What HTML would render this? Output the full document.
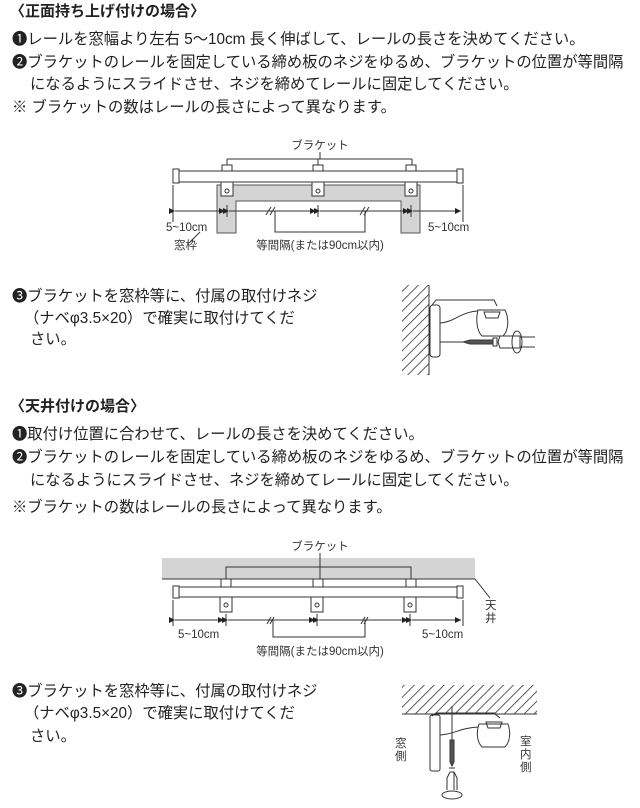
<!DOCTYPE html>
<html><head><meta charset="utf-8"><style>
body{margin:0;width:640px;height:808px;background:#fff;position:relative;overflow:hidden;font-family:"Liberation Sans","Noto Sans CJK JP",sans-serif;color:#222}
.t{position:absolute;white-space:nowrap;font-size:15.3px;line-height:18px}
.h{font-weight:bold;font-size:15px}
svg{position:absolute;left:0;top:0}
</style></head><body>
<div class="t h" style="left:10px;top:3px">〈正面持ち上げ付けの場合〉</div>
<div class="t" style="left:12px;top:31px">❶レールを窓幅より左右 5〜10cm 長く伸ばして、レールの長さを決めてください。</div>
<div class="t" style="left:12px;top:54px">❷ブラケットのレールを固定している締め板のネジをゆるめ、ブラケットの位置が等間隔</div>
<div class="t" style="left:30px;top:76px">になるようにスライドさせ、ネジを締めてレールに固定してください。</div>
<div class="t" style="left:12px;top:99px">※ ブラケットの数はレールの長さによって異なります。</div>

<div class="t" style="left:12px;top:288px">❸ブラケットを窓枠等に、付属の取付けネジ</div>
<div class="t" style="left:24px;top:310px">（ナベφ3.5×20）で確実に取付けてくだ</div>
<div class="t" style="left:30px;top:331px">さい。</div>

<div class="t h" style="left:10px;top:398px">〈天井付けの場合〉</div>
<div class="t" style="left:12px;top:426px">❶取付け位置に合わせて、レールの長さを決めてください。</div>
<div class="t" style="left:12px;top:449px">❷ブラケットのレールを固定している締め板のネジをゆるめ、ブラケットの位置が等間隔</div>
<div class="t" style="left:30px;top:472px">になるようにスライドさせ、ネジを締めてレールに固定してください。</div>
<div class="t" style="left:12px;top:499px">※ブラケットの数はレールの長さによって異なります。</div>

<div class="t" style="left:12px;top:683px">❸ブラケットを窓枠等に、付属の取付けネジ</div>
<div class="t" style="left:24px;top:705px">（ナベφ3.5×20）で確実に取付けてくだ</div>
<div class="t" style="left:30px;top:728px">さい。</div>

<svg width="640" height="808" viewBox="0 0 640 808" font-family="Liberation Sans,Noto Sans CJK JP,sans-serif" fill="none" stroke="#333" stroke-width="1">
<defs>
<marker id="a" markerWidth="6" markerHeight="6" refX="6" refY="3" orient="auto"><path d="M0,0L6,3L0,6z" fill="#222" stroke="none"/></marker>
<pattern id="hp" width="7" height="7" patternUnits="userSpaceOnUse" patternTransform="rotate(45)"><line x1="0" y1="0" x2="0" y2="7" stroke="#333" stroke-width="1.6"/></pattern>
</defs>
<!-- Diagram 1 -->
<path d="M217,233V185H420V233H401V201H236V233Z" fill="#d4d4d4" stroke="#555"/>
<text x="320" y="149" font-size="11.5" fill="#333" stroke="none" text-anchor="middle">ブラケット</text>
<path d="M320,152V159M227,159H412M227,159V165M412,159V165M318,159V165"/>
<rect x="173" y="171" width="290" height="11" fill="#fff"/>
<rect x="173" y="169" width="6" height="14" fill="#fff"/><rect x="457" y="169" width="6" height="14" fill="#fff"/>
<g fill="#fff">
<rect x="222" y="165" width="10" height="6"/><rect x="313" y="165" width="10" height="6"/><rect x="406" y="165" width="10" height="6"/>
<rect x="221" y="182" width="12" height="14"/><rect x="312" y="182" width="12" height="14"/><rect x="405" y="182" width="12" height="14"/>
</g>
<circle cx="227" cy="191" r="2"/><circle cx="318" cy="191" r="2"/><circle cx="411" cy="191" r="2"/>
<path d="M173,185V222M463,185V222M227,205V217M318,205V217M411,205V217"/>
<path d="M175,211H225" marker-end="url(#a)" marker-start="url(#a)"/>
<path d="M229,211H316" marker-end="url(#a)" marker-start="url(#a)"/>
<path d="M320,211H409" marker-end="url(#a)" marker-start="url(#a)"/>
<path d="M413,211H461" marker-end="url(#a)" marker-start="url(#a)"/>
<path d="M266,215L271,207M270,215L275,207M360,215L365,207M364,215L369,207"/>
<path d="M275,211V232H365V211"/>
<path d="M200,232L190,242"/>
<g fill="#333" stroke="none" font-size="11.5">
<text x="166" y="231">5~10cm</text><text x="428" y="231">5~10cm</text>
<text x="174" y="249">窓枠</text><text x="320" y="249" text-anchor="middle">等間隔(または90cm以内)</text>
</g>
<!-- Diagram 2 -->
<rect x="402" y="285" width="27" height="90" fill="url(#hp)" stroke="none"/>
<path d="M429,285V375"/>
<rect x="430" y="305" width="10" height="52" rx="3" fill="#fff"/>
<path d="M432,305L436,300H494L497,306M440,323C455,322 460,312 478,311"/>
<path d="M478,310C476,318 476,330 482,336H503C509,330 509,318 505,310Z" fill="#fff"/>
<path d="M484,312H500L498,318H486Z" fill="none"/>
<path d="M440,342H463"/>
<path d="M463,342L470,340H493V344H470Z" fill="#555"/>
<rect x="493" y="338" width="4" height="8" fill="#fff"/>
<path d="M500,336H520V348H500L498,342Z" fill="#fff"/>
<path d="M520,337H535M520,347H535"/>
<ellipse cx="517" cy="342" rx="5" ry="11"/>
<!-- Diagram 3 -->
<rect x="162" y="558" width="313" height="21" fill="#d4d4d4" stroke="none"/>
<path d="M162,579H475L490,598"/>
<text x="320" y="550" font-size="11.5" fill="#333" stroke="none" text-anchor="middle">ブラケット</text>
<path d="M226,579V567H411V579M320,553V579"/>
<g fill="#fff">
<rect x="221" y="579" width="10" height="8"/><rect x="313" y="579" width="10" height="8"/><rect x="406" y="579" width="10" height="8"/>
<rect x="173" y="587" width="290" height="10"/>
<rect x="173" y="586" width="6" height="12"/><rect x="457" y="586" width="6" height="12"/>
<rect x="220" y="597" width="12" height="15"/><rect x="311" y="597" width="12" height="15"/><rect x="404" y="597" width="12" height="15"/>
</g>
<circle cx="226" cy="605" r="2"/><circle cx="317" cy="605" r="2"/><circle cx="410" cy="605" r="2"/>
<path d="M173,600V626M463,600V626M226,614V626M317,614V626M410,614V626"/>
<path d="M175,620H224" marker-end="url(#a)" marker-start="url(#a)"/>
<path d="M228,620H315" marker-end="url(#a)" marker-start="url(#a)"/>
<path d="M319,620H408" marker-end="url(#a)" marker-start="url(#a)"/>
<path d="M412,620H461" marker-end="url(#a)" marker-start="url(#a)"/>
<path d="M267,624L271,617M270,624L274,617M361,624L365,617M364,624L368,617"/>
<path d="M273,620V637H365V620"/>
<g fill="#333" stroke="none" font-size="11.5">
<text x="178" y="638">5~10cm</text><text x="422" y="638">5~10cm</text>
<text x="320" y="655" text-anchor="middle">等間隔(または90cm以内)</text>
<text x="485" y="609">天</text><text x="485" y="622">井</text>
</g>
<!-- Diagram 4 -->
<rect x="402" y="685" width="135" height="29" fill="url(#hp)" stroke="none"/>
<path d="M402,714H537"/>
<rect x="430" y="715" width="10" height="56" rx="2" fill="#fff"/>
<path d="M432,716L436,713H495M440,735C455,734 460,728 478,727M495,714L500,718"/>
<path d="M479,724C476,732 477,742 482,747H505C510,742 511,732 508,724Z" fill="#fff"/>
<path d="M486,722H502L500,728H488Z" fill="none"/>
<path d="M452,706V740"/>
<path d="M450,740H454V762L452,766L450,762Z" fill="#555"/>
<path d="M449,768H455M450,772H454V790M450,772L447,778V790M454,772L457,778V790"/>
<ellipse cx="452" cy="795" rx="10" ry="4"/>
<g fill="#333" stroke="none" font-size="11.5">
<text x="395" y="747">窓</text><text x="395" y="760">側</text>
<text x="520" y="745">室</text><text x="520" y="758">内</text><text x="520" y="771">側</text>
</g>
</svg>
</body></html>
